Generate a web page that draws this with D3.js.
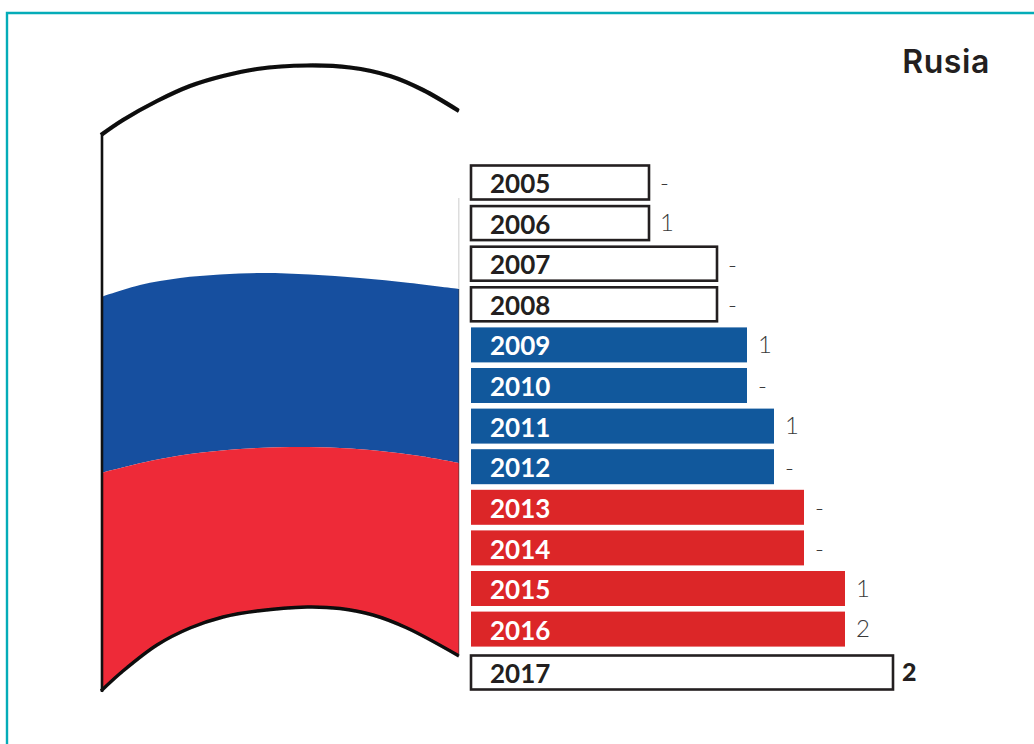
<!DOCTYPE html>
<html><head><meta charset="utf-8">
<script src="https://cdn.jsdelivr.net/npm/d3@7"></script>
<style>html,body{margin:0;padding:0;background:#fff;overflow:hidden}svg{display:block}text{font-family:Lato,"Open Sans",sans-serif}</style>
</head><body><svg id="c" width="1034" height="744"></svg>
<script>
const title = "Rusia";
const years = ["2005","2006","2007","2008","2009","2010","2011","2012","2013","2014","2015","2016","2017"];
const barLengths = [178,178,246,246,276,276,303,303,333,333,374,374,422];
const valueLabels = ["-","1","-","-","1","-","1","-","-","-","1","2","2"];
const barGroups = ["o","o","o","o","b","b","b","b","r","r","r","r","o"];
const groupFill = {o:"#fff", b:"#11589c", r:"#dc2628"};
const groupText = {o:"#231f20", b:"#fff", r:"#fff"};
const flagTop = [[101,135],[123,120],[157,101],[190,86],[223,76],[257,69],[307,65.5],[350,67.5],[390,76],[423,90],[459,111]];
const flagWhiteBlue = [[101,297],[140,285],[180,278],[220,274.5],[263,273],[310,274.5],[360,278],[410,283],[459,289]];
const flagBlueRed = [[101,473],[150,461],[190,454],[240,449],[290,447],[340,448],[380,451],[420,456],[459,463]];
const flagBottom = [[101,691],[123,671],[157,645],[190,628],[223,617],[257,611],[307,607],[340,608.5],[373,615],[407,628],[459,656]];

const svg = d3.select("#c");
const x = d3.scaleLinear().domain([0,422]).range([471,893]);
const y = d3.scaleBand().domain(years).range([165,687.2]).paddingInner(0.138).paddingOuter(0);
const rowY = d => y(d) + (d === "2017" ? 2.8 : 0);
const curve = d3.line().curve(d3.curveCatmullRom.alpha(0.5));

// frame
svg.append("path").attr("d","M7,744V13H1034").attr("fill","none").attr("stroke","#04acb8").attr("stroke-width",2.4);

// flag
const defs = svg.append("defs");
defs.append("filter").attr("id","soft").append("feGaussianBlur").attr("stdDeviation",0.7);
const band = (a,b) => curve(a) + "L" + curve(b.slice().reverse()).slice(1) + "Z";
const flag = svg.append("g").attr("filter","url(#soft)");
flag.append("path").attr("d",band(flagWhiteBlue,flagBlueRed)).attr("fill","#17509f");
flag.append("path").attr("d",band(flagBlueRed,flagBottom)).attr("fill","#ee2b39");
flag.append("path").attr("d",curve(flagTop)).attr("fill","none").attr("stroke","#0a0a0a").attr("stroke-width",4.2);
flag.append("path").attr("d",curve(flagBottom)).attr("fill","none").attr("stroke","#0a0a0a").attr("stroke-width",3.4);
svg.append("line").attr("x1",102).attr("x2",102).attr("y1",134).attr("y2",692).attr("stroke","#111").attr("stroke-width",2.6);
svg.append("line").attr("x1",459).attr("x2",459).attr("y1",198).attr("y2",289).attr("stroke","#aaa").attr("stroke-width",0.8);
svg.append("line").attr("x1",459).attr("x2",459).attr("y1",289).attr("y2",656).attr("stroke","#333").attr("stroke-width",0.8);
svg.append("rect").attr("x",459.5).attr("y",60).attr("width",9).attr("height",640).attr("fill","#fff");
svg.append("rect").attr("x",90).attr("y",694).attr("width",30).attr("height",8).attr("fill","#fff");

// bars
const isOutline = d => barGroups[years.indexOf(d)] === "o";
const rows = svg.selectAll("g.row").data(years).join("g").attr("class","row");
rows.append("rect")
  .attr("x",x(0))
  .attr("y",d=>rowY(d)+(isOutline(d)?0.5:0))
  .attr("width",(d,i)=>x(barLengths[i])-x(0))
  .attr("height",d=>y.bandwidth()-(isOutline(d)?1:0))
  .attr("fill",(d,i)=>groupFill[barGroups[i]])
  .attr("stroke",d=>isOutline(d)?"#231f20":"none")
  .attr("stroke-width",2.6);
rows.append("text")
  .attr("x",x(0)+19)
  .attr("y",d=>rowY(d)+y.bandwidth()/2+10.6)
  .attr("font-size",26).attr("font-weight",700)
  .attr("fill",(d,i)=>groupText[barGroups[i]])
  .text(d=>d);
rows.append("text")
  .attr("x",(d,i)=>x(barLengths[i])+(i===12?9:11))
  .attr("y",(d,i)=>rowY(d)+y.bandwidth()/2+(valueLabels[i]==="-"?10:8))
  .attr("font-size",(d,i)=>i===12?25:24)
  .attr("font-weight",(d,i)=>i===12?900:300)
  .attr("fill",(d,i)=>i===12?"#231f20":"#3a3a3a")
  .text((d,i)=>valueLabels[i]);

svg.append("text").attr("x",990).attr("y",73).attr("text-anchor","end")
  .attr("font-size",32).attr("font-weight",600).attr("letter-spacing",0.6)
  .style("font-family","Inter,Lato,sans-serif").attr("fill","#231f20").text(title);
</script></body></html>
